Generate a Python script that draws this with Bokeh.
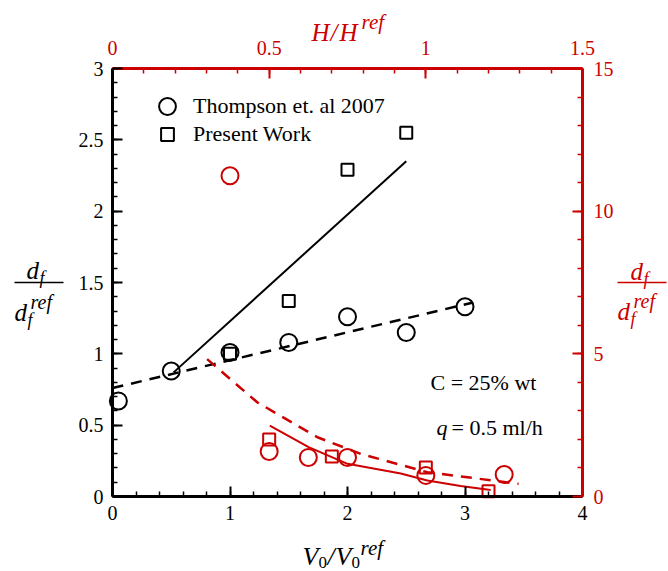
from bokeh.plotting import figure
from bokeh.models import (Range1d, LinearAxis, SingleIntervalTicker, Legend,
                          LegendItem, Label, Arrow)
from bokeh.embed import file_html
from bokeh.resources import INLINE

# ---------------- data ----------------
# black series: bottom axis V0/V0ref, left axis df/dfref
thompson_v = [0.05, 0.5, 1.0, 1.5, 2.0, 2.5, 3.0]
thompson_df = [0.67, 0.88, 1.01, 1.08, 1.26, 1.15, 1.33]
present_v = [1.0, 1.5, 2.0, 2.5]
present_df = [1.0, 1.37, 2.29, 2.55]
fit_present_v = [0.52, 2.50]
fit_present_df = [0.87, 2.35]
fit_thompson_v = [0.0, 3.07]
fit_thompson_df = [0.76, 1.36]

# red series: top axis H/Href, right axis df/dfref
thompson_h = [0.375, 0.5, 0.625, 0.75, 1.0, 1.25]
thompson_r = [11.24, 1.58, 1.37, 1.37, 0.74, 0.77]
present_h = [0.5, 0.7, 1.0, 1.2]
present_r = [2.0, 1.40, 1.02, 0.18]
fit_present_h = [0.502, 0.626, 0.750, 0.920, 1.005, 1.111, 1.207]
fit_present_r = [2.485, 1.733, 1.145, 0.805, 0.560, 0.368, 0.228]
fit_thompson_h = [0.302, 0.462, 0.553, 0.654, 0.792, 1.005, 1.296]
fit_thompson_r = [4.813, 3.301, 2.720, 2.076, 1.495, 0.851, 0.445]

bottom_ticks = [0, 1, 2, 3, 4]
bottom_labels = ["0", "1", "2", "3", "4"]
left_ticks = [0, 0.5, 1, 1.5, 2, 2.5, 3]
left_labels = ["0", "0.5", "1", "1.5", "2", "2.5", "3"]
top_ticks = [0, 0.5, 1, 1.5]
top_labels = ["0", "0.5", "1", "1.5"]
right_ticks = [0, 5, 10, 15]
right_labels = ["0", "5", "10", "15"]

legend_labels = ["Thompson et. al 2007", "Present Work"]
note_c = "C = 25% wt"
note_q = "= 0.5 ml/h"

# ---------------- layout ----------------
RED = "#cc0000"
FONT = "Liberation Serif"
W, H = 668, 571
FL, FR, FT, FB = 112, 582, 68, 496      # pixel box of the axes
XS = (FR - FL) / 4.0
YS = (FB - FT) / 3.0


def dx(px):
    return (px - FL) / XS


def dy(py):
    return (FB - py) / YS


TOP_K = 1.5 / 4.0
RIGHT_K = 15.0 / 3.0

p = figure(width=W, height=H,
           x_range=Range1d(dx(0), dx(W)), y_range=Range1d(dy(H), dy(0)),
           output_backend="svg", toolbar_location=None,
           x_axis_location=None, y_axis_location=None,
           min_border_left=0, min_border_right=0,
           min_border_top=0, min_border_bottom=0)
p.extra_x_ranges = {"top": Range1d(dx(0) * TOP_K, dx(W) * TOP_K)}
p.extra_y_ranges = {"right": Range1d(dy(H) * RIGHT_K, dy(0) * RIGHT_K)}
p.xgrid.visible = False
p.ygrid.visible = False
p.outline_line_color = None
p.background_fill_color = "white"
p.border_fill_color = "white"


def make_axis(side, color, interval, ticks, labels, standoff, bounds, loc,
              **kw):
    ax = LinearAxis(fixed_location=loc, bounds=bounds, **kw)
    ax.ticker = SingleIntervalTicker(interval=interval, num_minor_ticks=5)
    ax.major_label_overrides = {t: l for t, l in zip(ticks, labels)}
    ax.axis_line_color = color
    ax.axis_line_width = 3
    ax.major_tick_line_color = color
    ax.minor_tick_line_color = color
    ax.major_tick_line_width = 2
    ax.minor_tick_line_width = 1.5
    ax.major_tick_in = 10
    ax.major_tick_out = 0
    ax.minor_tick_in = 5
    ax.minor_tick_out = 0
    ax.major_label_text_color = color
    ax.major_label_text_font = FONT
    ax.major_label_text_font_size = "20px"
    ax.major_label_standoff = standoff
    p.add_layout(ax, side)
    return ax


make_axis("below", "black", 1, bottom_ticks, bottom_labels, 9, (0, 4), 0)
make_axis("left", "black", 0.5, left_ticks, left_labels, 9, (0, 3), 0)
make_axis("above", RED, 0.5, top_ticks, top_labels, 14, (0, 1.5), 3,
          x_range_name="top")
make_axis("right", RED, 5, right_ticks, right_labels, 11, (0, 15), 4,
          y_range_name="right")

# ---------------- glyphs ----------------
p.line(fit_present_v, fit_present_df, line_color="black", line_width=2)
p.line(fit_thompson_v, fit_thompson_df, line_color="black", line_width=2.5,
       line_dash="11 8")
r_circ = p.scatter(thompson_v, thompson_df, marker="circle", size=17,
                   line_color="black", line_width=2, fill_color=None)
r_sq = p.scatter(present_v, present_df, marker="square", size=12,
                 line_color="black", line_width=2, fill_color=None)

p.line(fit_present_h, fit_present_r, line_color=RED, line_width=2,
       x_range_name="top", y_range_name="right")
p.line(fit_thompson_h, fit_thompson_r, line_color=RED, line_width=2.5,
       line_dash="11 8", x_range_name="top", y_range_name="right")
p.scatter(thompson_h, thompson_r, marker="circle", size=17, line_color=RED,
          line_width=2, fill_color=None, x_range_name="top",
          y_range_name="right")
p.scatter(present_h, present_r, marker="square", size=12, line_color=RED,
          line_width=2, fill_color=None, x_range_name="top",
          y_range_name="right")

# ---------------- legends ----------------
leg1 = Legend(items=[LegendItem(label=legend_labels[0], renderers=[r_circ])],
              location=(167 - 21, H - (106 + 21)), glyph_width=42,
              glyph_height=42, label_standoff=5, padding=0, margin=0,
              border_line_color=None, background_fill_alpha=0,
              label_text_font=FONT, label_text_font_size="22px",
              label_text_color="black")
leg2 = Legend(items=[LegendItem(label=legend_labels[1], renderers=[r_sq])],
              location=(167 - 16, H - (134 + 16)), glyph_width=32,
              glyph_height=32, label_standoff=10, padding=0, margin=0,
              border_line_color=None, background_fill_alpha=0,
              label_text_font=FONT, label_text_font_size="22px",
              label_text_color="black")
p.add_layout(leg1)
p.add_layout(leg2)


# ---------------- texts ----------------
def lab(px, py, text, size, color="black", italic=False, baseline="alphabetic",
        align="left"):
    p.add_layout(Label(x=dx(px), y=dy(py), text=text, text_font=FONT,
                       text_font_size=f"{size}px", text_color=color,
                       text_font_style="italic" if italic else "normal",
                       text_baseline=baseline, text_align=align))


def bar(x0, x1, py, color):
    p.add_layout(Arrow(start=None, end=None, x_start=dx(x0), y_start=dy(py),
                       x_end=dx(x1), y_end=dy(py), line_color=color,
                       line_width=1.5))


# left fraction
lab(26, 270, "d", 25, italic=True)
lab(39, 277, "f", 18, italic=True)
bar(14, 63, 282, "black")
lab(14, 312, "d", 25, italic=True)
lab(27, 319, "f", 18, italic=True)
lab(30, 301, "ref", 20, italic=True)

# right fraction
lab(630, 271, "d", 25, color=RED, italic=True)
lab(643, 278, "f", 18, color=RED, italic=True)
bar(617, 666, 282, RED)
lab(617, 311, "d", 25, color=RED, italic=True)
lab(630, 318, "f", 18, color=RED, italic=True)
lab(633, 300, "ref", 20, color=RED, italic=True)

# bottom title
lab(302, 556, "V", 26, italic=True)
lab(318, 562, "0", 17)
lab(327, 556, "/", 26, italic=True)
lab(335, 556, "V", 26, italic=True)
lab(351, 562, "0", 17)
lab(360, 547, "ref", 21, italic=True)

# top title
lab(311, 32, "H", 25, color=RED, italic=True)
lab(330, 32, "/", 25, color=RED, italic=True)
lab(339, 32, "H", 25, color=RED, italic=True)
lab(361, 21, "ref", 21, color=RED, italic=True)

# notes
lab(430, 382, note_c, 22, baseline="middle")
lab(436, 427, "q", 22, italic=True, baseline="middle")
lab(451, 427, note_q, 22, baseline="middle")

open("out.html", "w").write(file_html(p, INLINE))
